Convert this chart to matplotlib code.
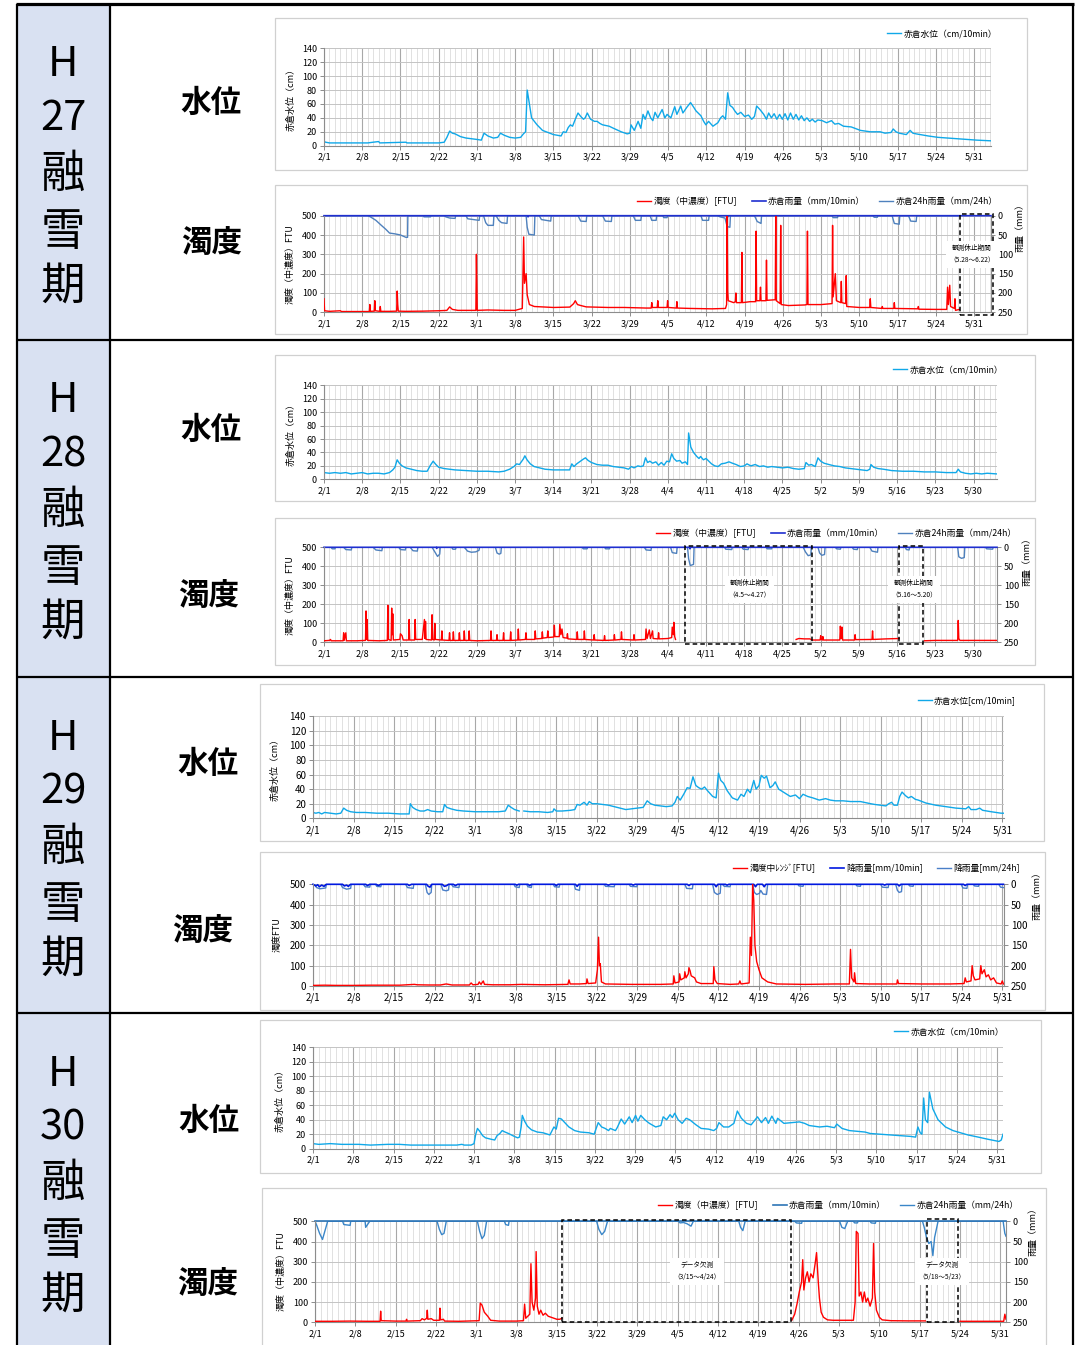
import numpy as np
import matplotlib
matplotlib.use("Agg")
import matplotlib.pyplot as plt
from matplotlib.patches import Rectangle

plt.rcParams["font.family"] = ["Noto Sans CJK JP", "DejaVu Sans"]

NAN = float("nan")

# ---------------- axis tick labels ----------------
TICKS_A = ["2/1", "2/8", "2/15", "2/22", "3/1", "3/8", "3/15", "3/22", "3/29", "4/5",
           "4/12", "4/19", "4/26", "5/3", "5/10", "5/17", "5/24", "5/31"]
TICKS_B = ["2/1", "2/8", "2/15", "2/22", "2/29", "3/7", "3/14", "3/21", "3/28", "4/4",
           "4/11", "4/18", "4/25", "5/2", "5/9", "5/16", "5/23", "5/30"]

YEARS = ["27", "28", "29", "30"]

# ---------------- H27 (days counted from 2/1) ----------------
WL27 = [(0, 6), (0.3, 5), (1, 4), (8, 4), (10, 6), (10.2, 4), (15, 5), (15.2, 4), (21, 4), (22, 5),
        (22.5, 12), (23, 21), (23.5, 18), (24, 17), (25, 13), (26, 11), (27, 10), (28, 9), (28.8, 8),
        (29.3, 18), (30, 14), (31, 11), (31.8, 12), (32.3, 18), (33, 15), (34, 12), (35, 11), (36, 12),
        (36.5, 17), (36.9, 20), (37.2, 80), (37.6, 60), (38, 40), (39, 30), (40, 22), (41, 19),
        (42, 16), (43.4, 14), (43.8, 20), (44.3, 19), (44.7, 26), (45.1, 30), (45.5, 28), (46, 38),
        (46.5, 47), (47, 42), (47.5, 38), (47.8, 40), (48.2, 47), (48.8, 38), (49.5, 35), (50, 35),
        (50.5, 32), (51, 30), (52.2, 28), (53, 25), (54.4, 20), (55.5, 17), (56, 18), (56.2, 30),
        (56.8, 22), (57.5, 35), (58, 25), (58.4, 45), (58.8, 38), (59.3, 50), (59.8, 40), (60.2, 36),
        (60.6, 48), (61.1, 40), (61.9, 52), (62.4, 40), (62.8, 45), (63.5, 40), (64.2, 56), (64.6, 45),
        (65.3, 57), (65.7, 47), (66.4, 55), (67.1, 62), (67.7, 55), (68.1, 50), (69, 43), (69.5, 35),
        (69.9, 30), (70.4, 35), (71.2, 28), (72.1, 33), (72.6, 40), (73, 43), (73.5, 38), (73.9, 76),
        (74.3, 58), (74.8, 55), (75.2, 50), (75.7, 45), (76.3, 48), (77, 42), (77.7, 44), (78.3, 38),
        (78.8, 42), (79.2, 57), (79.8, 52), (80.5, 45), (81, 38), (81.4, 47), (81.9, 40), (82.4, 46),
        (82.9, 38), (83.4, 45), (83.9, 38), (84.4, 46), (84.9, 37), (85.4, 47), (85.9, 38), (86.4, 45),
        (86.9, 37), (87.4, 43), (87.9, 36), (88.4, 40), (88.9, 35), (89.4, 38), (89.9, 34), (90.4, 37),
        (91.2, 36), (92, 33), (92.9, 36), (93.5, 31), (94.2, 32), (95.1, 28), (96.5, 27), (98.2, 22),
        (100, 20), (101.8, 20), (102.7, 18), (103.8, 19), (104.2, 24), (104.7, 20), (105.3, 18),
        (106.6, 16), (107.3, 22), (107.8, 18), (108.4, 17), (110.6, 14), (112.4, 12), (115.9, 10),
        (119.5, 8), (122.1, 7)]

TB27 = [(0, 70), (0.1, 8), (1, 5), (3, 8), (3.2, 4), (5, 4), (8.3, 4), (8.4, 40), (8.5, 5), (9.2, 6),
        (9.3, 60), (9.4, 8), (10.2, 5), (10.3, 30), (10.4, 5), (12, 5), (13.3, 6), (13.4, 110),
        (13.5, 40), (13.6, 6), (15, 5), (18, 6), (21, 8), (22.5, 10), (23, 28), (23.5, 15), (24.5, 10),
        (27.8, 10), (27.9, 300), (28.05, 10), (30, 12), (33, 10), (35, 10), (36.3, 20), (36.45, 230),
        (36.55, 390), (36.7, 150), (37.0, 200), (37.2, 90), (37.6, 40), (38.5, 30), (42, 25),
        (45, 27), (45.7, 45), (46, 60), (46.4, 40), (47, 35), (48, 28), (52, 25), (55, 25), (59, 22),
        (59.9, 22), (60, 50), (60.1, 25), (61, 25), (61.1, 60), (61.2, 25), (62.8, 25), (62.9, 60),
        (63, 25), (64.5, 22), (64.6, 55), (64.7, 22), (67, 20), (71, 18), (73.5, 20), (73.7, 40),
        (73.8, 500), (73.9, 110), (74.0, 60), (75, 50), (75.3, 55), (75.4, 100), (75.5, 50),
        (76.4, 50), (76.5, 310), (76.6, 50), (78, 55), (79, 55), (79.1, 420), (79.2, 60), (79.8, 60),
        (79.9, 130), (80, 60), (80.9, 60), (81, 270), (81.1, 62), (82.6, 65), (82.7, 500), (82.8, 60),
        (83.5, 45), (83.6, 450), (83.7, 40), (85, 35), (88, 38), (88.4, 40), (88.5, 420), (88.6, 40),
        (91, 40), (93, 45), (93.1, 450), (93.2, 80), (93.6, 200), (93.8, 60), (94.6, 50), (94.7, 160),
        (94.8, 50), (95.5, 45), (95.6, 190), (95.7, 30), (98, 25), (99.9, 25), (100, 70), (100.1, 25),
        (102.1, 20), (102.2, 30), (102.3, 20), (104.3, 20), (104.4, 50), (104.5, 20), (108.7, 18),
        (108.8, 30), (108.9, 16), (112, 15), (114, 15), (114.15, 130), (114.3, 40), (114.55, 140),
        (114.7, 30), (115.4, 20), (115.5, 70), (115.6, 10), (116.3, 15)]

R24_27 = [(0, 0), (8, 0), (8.5, 3), (9.5, 12), (10.5, 25), (11.3, 35), (12, 45), (13, 47), (14, 50),
          (15, 56), (15.3, 56), (15.35, 0), (18.2, 0), (18.3, 3), (19.5, 3), (19.6, 0), (22, 0),
          (22.3, 3), (23, 6), (24, 7), (24.1, 0), (26, 0), (26.3, 8), (28.4, 12), (28.5, 0), (29.2, 0),
          (29.6, 18), (30, 25), (31, 25), (31.1, 0), (31.5, 0), (32, 12), (32.5, 18), (33.5, 20),
          (33.6, 0), (37, 0), (37.2, 30), (37.5, 48), (38.5, 50), (38.6, 0), (39.4, 0), (39.8, 10),
          (41.5, 14), (41.6, 0), (46.5, 0), (47, 14), (48, 15), (48.1, 0), (51, 0), (51.5, 14),
          (52.6, 15), (52.7, 0), (56.6, 0), (57, 12), (58, 12), (58.1, 0), (59.7, 0), (60, 12),
          (60.8, 12), (60.9, 0), (62, 0), (62.2, 5), (62.8, 5), (62.9, 0), (69, 0), (69.3, 12),
          (70.4, 12), (70.5, 0), (72, 0), (72.5, 3), (73.4, 6), (73.8, 28), (74.3, 30), (74.4, 0),
          (78.8, 0), (79.3, 15), (80, 20), (80.1, 0), (93, 0), (93.2, 5), (94, 5), (94.1, 0),
          (100.5, 0), (100.7, 4), (101.3, 4), (101.4, 0), (104, 0), (104.4, 20), (105.3, 22),
          (105.4, 0), (107, 0), (107.4, 14), (108.4, 15), (108.5, 0), (116.3, 0)]

R10_27 = [(0, 0), (37.3, 0), (37.35, 3), (37.4, 0), (73.8, 0), (73.85, 4), (73.9, 0), (122.1, 0)]

# ---------------- H28 ----------------
WL28 = [(0, 10), (1, 9), (2, 10), (3, 9), (4, 10), (5, 8), (6, 9), (7, 10), (8, 8), (9, 9), (10, 9),
        (11, 8), (12, 10), (12.6, 14), (13, 18), (13.4, 29), (13.8, 24), (14.3, 20), (15, 17),
        (16, 15), (17, 13), (18, 12), (18.9, 12), (19.5, 21), (20, 27), (20.5, 22), (21, 18),
        (22, 16), (23, 15), (24, 14), (26, 13), (28, 12), (30, 12), (32, 11), (33, 12), (34, 15),
        (34.8, 19), (35.3, 23), (35.8, 22), (36.5, 30), (36.8, 35), (37.2, 29), (37.8, 23),
        (38.5, 19), (39.5, 17), (40.5, 15), (42, 14), (44, 14), (45, 14), (45.4, 23), (45.8, 19),
        (46.3, 23), (46.8, 26), (47.5, 30), (47.9, 32), (48.4, 28), (49, 25), (50, 22), (51, 21),
        (52, 21), (53, 19), (54, 18), (55, 17), (55.8, 15), (56.3, 19), (56.8, 17), (57.5, 20),
        (58, 19), (58.5, 20), (58.9, 32), (59.3, 25), (59.7, 27), (60.2, 24), (60.8, 26), (61.3, 21),
        (61.8, 25), (62.3, 21), (62.8, 27), (63.3, 26), (63.7, 38), (64.1, 31), (64.6, 27),
        (65.2, 28), (65.6, 24), (66.2, 26), (66.6, 22), (66.8, 69), (67.2, 48), (67.7, 40),
        (68.3, 34), (68.7, 31), (69, 34), (69.5, 29), (70, 31), (70.5, 27), (71, 23), (71.6, 20),
        (72.2, 19), (72.8, 23), (73.5, 24), (74.2, 26), (74.8, 24), (75.5, 22), (76.3, 19), (77, 20),
        (77.5, 23), (78.2, 20), (79, 22), (79.8, 19), (80.5, 20), (81.3, 18), (82, 19), (83, 18),
        (84, 17), (85, 18), (86, 16), (87, 15), (88, 16), (88.3, 25), (88.8, 21), (89.3, 22),
        (90, 19), (90.5, 32), (91, 27), (91.6, 24), (92.5, 22), (93.5, 20), (94.5, 19), (95.5, 17),
        (96.5, 16), (97.5, 15), (98.5, 14), (99.5, 13), (100, 15), (100.2, 22), (100.7, 18),
        (101.5, 16), (102.5, 15), (104, 13), (106, 12), (108, 12), (110, 11), (112, 11), (114, 10),
        (115.8, 10), (116.2, 15), (116.6, 11), (117.5, 9), (118.5, 8), (119.5, 9), (120.5, 8),
        (121.5, 9), (123.3, 8)]

TB28 = [(0, 8), (1, 10), (1.2, 15), (1.3, 8), (3.5, 8), (3.6, 50), (3.7, 10), (4, 50), (4.1, 8),
        (6, 8), (7.6, 10), (7.7, 165), (7.8, 15), (7.9, 120), (8, 10), (10, 8), (11.6, 10),
        (11.7, 195), (11.8, 15), (12.3, 10), (12.4, 180), (12.5, 40), (12.6, 150), (12.7, 12),
        (13.9, 15), (14, 45), (14.3, 35), (14.5, 12), (15.5, 12), (15.6, 120), (15.7, 12), (16.6, 12),
        (16.7, 120), (16.8, 15), (18, 15), (18.4, 120), (18.5, 20), (18.6, 110), (18.7, 15),
        (19.7, 12), (19.8, 145), (19.9, 15), (20.2, 12), (20.3, 100), (20.4, 15), (21.5, 12),
        (21.6, 60), (21.7, 12), (22.9, 10), (23, 50), (23.1, 10), (23.6, 10), (23.7, 55), (23.8, 10),
        (24.7, 10), (24.8, 50), (24.9, 10), (25.6, 10), (25.7, 60), (25.8, 10), (26.5, 10),
        (26.6, 60), (26.7, 10), (28, 8), (30.5, 10), (30.6, 60), (30.7, 10), (31.6, 10), (31.7, 40),
        (31.8, 10), (32.8, 10), (32.9, 50), (33, 10), (34.1, 10), (34.2, 55), (34.3, 10), (35.5, 12),
        (35.6, 70), (35.7, 12), (36.9, 15), (37, 50), (37.1, 15), (38.6, 15), (38.7, 60), (38.8, 18),
        (39.9, 20), (40, 55), (40.1, 22), (40.9, 25), (41, 60), (41.1, 25), (42.1, 28), (42.2, 90),
        (42.3, 30), (43.1, 30), (43.2, 95), (43.4, 40), (43.6, 70), (43.8, 25), (44.5, 22),
        (44.6, 45), (44.7, 18), (46.3, 15), (46.4, 55), (46.5, 15), (47.6, 15), (47.7, 60),
        (47.8, 15), (49.4, 12), (49.5, 40), (49.6, 12), (51.3, 10), (51.4, 35), (51.5, 10),
        (53.1, 12), (53.2, 40), (53.3, 12), (54.4, 15), (54.5, 55), (54.6, 15), (56.7, 12),
        (56.8, 40), (56.9, 12), (58.9, 15), (59, 70), (59.2, 20), (59.6, 65), (59.8, 20), (60.2, 60),
        (60.3, 20), (61.2, 18), (61.3, 50), (61.4, 18), (63, 20), (63.7, 25), (63.8, 80), (64, 40),
        (64.1, 105), (64.25, 30), (64.4, 15), (64.5, NAN), (86.5, 15), (87, 20), (88, 18), (89, 18),
        (89.5, 12), (90.9, 12), (91, 35), (91.1, 15), (91.3, 12), (91.4, 30), (91.5, 12), (94.5, 12),
        (94.6, 85), (94.75, 20), (94.9, 80), (95, 12), (97.2, 12), (97.3, 40), (97.4, 14),
        (100.4, 15), (100.5, 60), (100.6, 15), (103, 18), (105.4, 20), (105.5, NAN), (110, 8),
        (112, 10), (116.1, 10), (116.2, 115), (116.3, 20), (116.5, 10), (118, 10), (123.3, 10)]

R24_28 = [(0, 0), (1.3, 0), (1.5, 4), (2, 4), (2.1, 0), (3.6, 0), (4, 6), (5, 7), (5.1, 0), (9, 0),
          (9.5, 7), (10.6, 9), (10.7, 0), (13.7, 0), (14, 6), (14.9, 7), (15, 0), (15.8, 0), (16.3, 9),
          (17.1, 10), (17.2, 0), (19.8, 0), (20.3, 12), (20.8, 24), (21.2, 18), (21.3, 0), (23.4, 0),
          (23.6, 5), (24.1, 5), (24.2, 0), (25.7, 0), (26.3, 10), (27, 13), (27.8, 12), (28.4, 8),
          (28.5, 0), (31.4, 0), (31.7, 15), (32.1, 18), (32.4, 16), (32.5, 0), (47.3, 0), (47.5, 4),
          (48.2, 4), (48.3, 0), (51.4, 0), (51.6, 4), (52.3, 4), (52.4, 0), (58.7, 0), (59, 7),
          (59.9, 8), (60, 0), (63.5, 0), (63.8, 14), (64.6, 16), (64.7, 0), (66.6, 0), (66.8, 30),
          (67.1, 48), (67.7, 45), (67.8, 0), (73.4, 0), (73.6, 5), (74.7, 6), (74.8, 0), (76.6, 0),
          (76.8, 5), (77.7, 6), (77.8, 0), (81, 0), (81.2, 4), (82, 4), (82.1, 0), (87.8, 0),
          (88.2, 12), (88.7, 22), (89.2, 20), (89.3, 0), (90.5, 0), (90.8, 15), (91.2, 21), (91.7, 19),
          (91.8, 0), (93.7, 0), (93.9, 4), (94.6, 5), (94.7, 0), (96.8, 0), (97, 5), (97.7, 6),
          (97.8, 0), (100, 0), (100.4, 10), (101.4, 13), (101.5, 0), (106.5, 0), (106.7, 6),
          (107.2, 7), (107.3, 0), (116.1, 0), (116.3, 25), (116.8, 29), (117.3, 27), (117.4, 0),
          (121.2, 0), (121.4, 4), (122.5, 5), (122.6, 0), (123.3, 0)]

R10_28 = [(0, 0), (20.6, 0), (20.65, 3), (20.7, 0), (67, 0), (67.05, 4), (67.1, 0), (123.3, 0)]

# ---------------- H29 ----------------
WL29 = [(0, 8), (0.5, 7), (1, 8), (1.5, 6), (2, 8), (3, 7), (4, 6), (4.8, 7), (5.3, 14), (5.8, 11),
        (6.5, 9), (7.5, 8), (9, 8), (11, 7), (13, 7), (15, 6), (16.6, 6), (16.8, 20), (17.2, 15),
        (17.8, 12), (18.5, 10), (19.2, 10), (19.8, 12), (20.4, 10), (21.5, 9), (22.4, 9), (22.7, 19),
        (23.1, 15), (23.8, 13), (24.8, 11), (26, 10), (28, 9), (30, 9), (32, 9), (33.2, 10),
        (33.7, 18), (34.2, 15), (34.8, 12), (35.6, 10), (35.7, NAN), (36.4, 10), (37.5, 9), (39, 9),
        (40.5, 8), (41.4, 9), (41.6, 13), (42, 10), (43, 10), (44.5, 11), (45.2, 12), (45.6, 19),
        (46.1, 18), (46.8, 22), (47.3, 18), (47.7, 23), (48.2, 20), (49, 20), (50, 19), (51, 18),
        (52, 16), (53, 14), (54, 12), (55, 13), (56, 14), (57, 15), (57.7, 24), (58.3, 20), (59, 18),
        (60, 17), (61, 16), (62, 17), (62.5, 22), (62.9, 30), (63.4, 25), (64, 33), (64.6, 42),
        (65.1, 41), (65.6, 57), (66.1, 45), (66.6, 42), (67.1, 40), (67.6, 43), (68.1, 38), (69, 30),
        (69.6, 28), (70, 62), (70.4, 52), (70.9, 48), (71.5, 38), (72.4, 28), (73.3, 25), (73.9, 33),
        (74.4, 30), (75, 40), (75.5, 35), (76.1, 52), (76.5, 40), (77, 45), (77.4, 59), (77.9, 55),
        (78.3, 58), (78.9, 42), (79.4, 45), (79.8, 50), (80.4, 40), (81.4, 35), (82.4, 30),
        (83.3, 32), (84, 27), (84.6, 33), (85.4, 30), (86.3, 28), (87.4, 25), (88.5, 27), (89.3, 25),
        (90.2, 24), (91.5, 24), (92.8, 23), (94.5, 23), (96.3, 20), (97, 19), (98, 18), (98.9, 17),
        (99.4, 20), (99.9, 22), (100.3, 18), (100.9, 18), (101.3, 30), (101.7, 36), (102.3, 31),
        (102.8, 28), (103.3, 30), (104, 26), (104.5, 25), (105.8, 21), (107.5, 18), (109.3, 16),
        (111, 14), (112.7, 13), (113.2, 16), (113.6, 12), (114.5, 12), (115.1, 14), (115.6, 11),
        (117.1, 9), (118.8, 7), (119.2, 7)]

TB29 = [(0, 3), (2, 4), (4, 3), (7, 3), (10, 4), (15, 4), (17.5, 8), (18, 6), (20, 5), (22, 5),
        (23, 10), (24, 5), (27, 5), (27.3, 15), (27.6, 6), (28.5, 8), (28.7, 20), (29, 8), (29.4, 25),
        (29.6, 8), (31, 6), (34, 6), (36, 8), (40, 6), (42, 7), (44, 8), (44.2, 30), (44.4, 10),
        (46, 10), (47.2, 12), (47.3, 35), (47.5, 12), (48.8, 15), (49.1, 80), (49.3, 240),
        (49.45, 100), (49.6, 110), (49.8, 20), (50.5, 10), (55, 8), (60, 8), (62.2, 10), (62.3, 50),
        (62.5, 15), (63.2, 20), (63.3, 60), (63.5, 30), (64.1, 40), (64.2, 70), (64.4, 40),
        (64.8, 60), (64.9, 90), (65.1, 75), (65.3, 50), (65.9, 40), (66.2, 20), (67, 12), (69.1, 12),
        (69.2, 95), (69.4, 30), (69.8, 12), (72, 8), (73.5, 10), (73.7, 25), (73.9, 10), (75.3, 15),
        (75.5, 240), (75.7, 150), (75.9, 500), (76.1, 420), (76.3, 200), (76.6, 120), (77, 80),
        (77.5, 40), (78.5, 20), (80, 10), (85, 8), (90, 10), (92.6, 10), (92.8, 180), (93, 40),
        (93.4, 20), (93.5, 65), (93.7, 12), (96, 10), (100, 10), (100.8, 10), (100.9, 30),
        (101.1, 12), (105, 10), (110, 10), (112.4, 12), (112.6, 40), (112.8, 20), (113.6, 25),
        (113.8, 100), (114, 50), (114.3, 30), (115.1, 35), (115.3, 100), (115.5, 60), (115.9, 80),
        (116.2, 45), (116.6, 55), (117, 30), (117.5, 40), (118, 15), (118.8, 10), (119, 25),
        (119.2, 10)]

R24_29 = [(0, 0), (0.3, 0), (0.6, 8), (1.2, 11), (2.2, 9), (2.3, 0), (4.8, 0), (5.1, 8), (5.8, 12),
          (6.5, 10), (6.6, 0), (8.7, 0), (9, 6), (9.8, 7), (9.9, 0), (10.8, 0), (11, 5), (11.7, 6),
          (11.8, 0), (16, 0), (16.3, 8), (17.3, 10), (17.4, 0), (19.4, 0), (19.7, 20), (20, 25),
          (20.4, 20), (20.5, 0), (22.1, 0), (22.4, 14), (23, 16), (23.4, 14), (23.5, 0), (23.9, 0),
          (24.2, 6), (25.2, 8), (25.3, 0), (34.7, 0), (34.9, 6), (35.6, 8), (35.7, 0), (36.9, 0),
          (37.1, 6), (37.7, 8), (37.8, 0), (41.5, 0), (41.7, 6), (42.5, 7), (42.6, 0), (45.1, 0),
          (45.3, 12), (46, 15), (46.1, 0), (50.3, 0), (50.5, 5), (52, 6), (52.1, 0), (54.6, 0),
          (54.8, 5), (55.9, 6), (56, 0), (64.2, 0), (64.5, 10), (65.5, 11), (65.6, 0), (69, 0),
          (69.3, 20), (69.8, 25), (70.3, 22), (70.4, 0), (70.7, 0), (71, 5), (72, 6), (72.1, 0),
          (75.9, 0), (76.2, 20), (76.6, 25), (77.1, 22), (77.3, 15), (77.7, 24), (78.3, 25), (78.5, 0),
          (83.7, 0), (83.9, 4), (84.6, 5), (84.7, 0), (93.7, 0), (93.9, 4), (94.5, 5), (94.6, 0),
          (98, 0), (98.3, 7), (99.3, 8), (99.4, 0), (100.6, 0), (100.9, 15), (101.2, 20), (101.6, 18),
          (101.7, 0), (102.8, 0), (103, 4), (103.6, 5), (103.7, 0), (111.9, 0), (112.2, 9), (112.9, 10),
          (113, 0), (114, 0), (114.2, 4), (114.9, 5), (115, 0), (118.4, 0), (118.7, 7), (119.2, 8)]

R10_29 = [(0, 0), (0.5, 4), (0.8, 1), (1.1, 6), (1.5, 2), (1.9, 5), (2.3, 0), (5.1, 0), (5.4, 4),
          (5.8, 2), (6.1, 5), (6.5, 0), (9.1, 0), (9.4, 3), (9.8, 0), (10.9, 0), (11.3, 3), (11.7, 0),
          (16.3, 0), (16.6, 3), (17, 0), (19.6, 0), (19.9, 5), (20.2, 7), (20.5, 0), (22.3, 0),
          (22.7, 5), (23.1, 3), (23.4, 0), (24.2, 0), (24.6, 3), (25, 0), (34.9, 0), (35.2, 2),
          (35.5, 0), (37.1, 0), (37.4, 3), (37.7, 0), (41.7, 0), (42, 3), (42.3, 0), (45.3, 0),
          (45.6, 5), (45.9, 0), (50.6, 0), (51, 2), (51.4, 0), (55, 0), (55.3, 2), (55.6, 0),
          (64.6, 0), (64.9, 3), (65.2, 0), (69.3, 0), (69.6, 6), (69.9, 0), (71.2, 0), (71.5, 2),
          (71.8, 0), (76.1, 0), (76.4, 6), (76.7, 0), (77.6, 0), (77.9, 6), (78.2, 0), (98.4, 0),
          (98.7, 2), (99, 0), (100.9, 0), (101.2, 4), (101.5, 0), (112.3, 0), (112.6, 3), (112.9, 0),
          (119.2, 0)]

# ---------------- H30 ----------------
WL30 = [(0, 7), (1, 6), (3, 7), (5, 6), (8, 6), (10, 5), (13, 6), (15, 6), (17, 5), (20, 5), (23, 5),
        (25, 5), (25.9, 6), (26.3, 5), (27.5, 5), (28, 7), (28.3, 20), (28.6, 28), (29, 24),
        (29.5, 18), (30, 15), (31, 13), (31.6, 12), (32, 18), (32.5, 21), (32.9, 25), (33.4, 23),
        (34, 21), (35, 17), (35.6, 15), (35.9, 16), (36.2, 30), (36.4, 46), (36.8, 38), (37.3, 31),
        (38, 26), (39, 23), (40, 22), (41.2, 19), (41.9, 30), (42.3, 27), (42.7, 42), (43.2, 41),
        (43.8, 36), (44.5, 30), (45.5, 25), (46.5, 23), (48, 22), (48.9, 20), (49.6, 36), (50.2, 30),
        (50.8, 28), (51.4, 25), (51.7, 28), (52.6, 25), (52.9, 29), (53.6, 41), (54.2, 34), (55, 44),
        (55.5, 36), (56.1, 46), (56.5, 38), (57, 46), (57.7, 40), (58.5, 35), (59.6, 30), (60.5, 32),
        (60.9, 44), (61.5, 40), (62.1, 47), (62.5, 43), (62.9, 49), (63.5, 40), (64.2, 35),
        (64.9, 42), (65.5, 40), (66.6, 33), (67.5, 28), (68.8, 27), (69.7, 25), (70.2, 28),
        (70.6, 36), (71.4, 30), (72.3, 30), (73.2, 35), (73.8, 52), (74.5, 42), (75.4, 35),
        (76.2, 33), (77.3, 44), (78, 36), (78.7, 43), (79.2, 35), (79.8, 45), (80.5, 35), (80.8, 42),
        (81.9, 35), (83.3, 36), (84.6, 37), (85.5, 35), (86.3, 32), (87.2, 31), (88.1, 30),
        (89.4, 31), (90.7, 29), (91.1, 34), (92, 28), (93.3, 25), (94.7, 24), (96, 23), (96.9, 21),
        (98.6, 20), (100.4, 19), (102.1, 18), (103.9, 17), (104.8, 16), (105.2, 30), (105.6, 22),
        (105.9, 20), (106.2, 70), (106.5, 40), (106.9, 36), (107.2, 78), (107.8, 55), (108.7, 40),
        (110, 30), (111.3, 25), (112.6, 22), (113.9, 19), (115.7, 16), (117.4, 13), (118.7, 11),
        (119.3, 10), (119.7, 12), (120, 20)]

TB30 = [(0, 5), (3, 5), (6, 6), (9, 5), (11.3, 5), (11.4, 55), (11.5, 8), (14, 6), (15.8, 6),
        (15.9, 15), (16, 6), (18.3, 8), (18.6, 18), (19, 12), (19.4, 20), (19.5, 60), (19.6, 15),
        (20.2, 18), (20.6, 10), (21.6, 10), (21.7, 70), (21.8, 12), (22.3, 15), (22.5, 6), (25, 5),
        (28.5, 8), (28.7, 95), (29, 85), (29.4, 50), (30, 30), (30.5, 10), (32, 6), (35, 6),
        (36.2, 8), (36.4, 90), (36.6, 20), (37.3, 40), (37.5, 290), (37.7, 100), (38, 60), (38.1, 80),
        (38.3, 120), (38.4, 350), (38.6, 80), (38.9, 40), (39.2, 60), (39.6, 35), (40, 45), (40.5, 30),
        (41, 25), (41.5, 20), (42, 15), (42.5, 15), (42.9, 20), (43, NAN), (82.8, 10), (83.3, 40),
        (83.7, 90), (84.1, 150), (84.5, 200), (84.7, 310), (84.9, 160), (85.2, 220), (85.5, 250),
        (85.8, 200), (86.1, 240), (86.5, 220), (86.9, 300), (87.1, 345), (87.4, 200), (87.6, 120),
        (87.9, 50), (88.3, 25), (89, 12), (90, 10), (92, 10), (93.5, 10), (93.8, 100), (94, 450),
        (94.3, 440), (94.5, 130), (94.8, 150), (95.1, 100), (95.4, 150), (95.7, 100), (96, 120),
        (96.4, 80), (96.8, 120), (97, 390), (97.2, 150), (97.5, 60), (98, 25), (98.5, 12), (100, 8),
        (103, 7), (106, 7), (106.1, NAN), (112, 5), (115, 5), (118, 5), (119.6, 5), (119.8, 40),
        (120, 15)]

R24_30 = [(0, 0), (0.3, 10), (0.8, 30), (1.3, 45), (1.8, 20), (2.2, 0), (4.8, 0), (5, 8), (6.1, 10),
          (6.2, 0), (8.7, 0), (8.8, 15), (9.5, 0), (21.2, 0), (21.6, 20), (22, 33), (22.4, 30),
          (22.8, 0), (28.2, 0), (28.6, 25), (29, 43), (29.4, 35), (29.8, 0), (32.9, 0), (33.1, 8),
          (33.6, 10), (33.7, 0), (48.9, 0), (49.3, 20), (49.8, 33), (50.3, 25), (50.8, 0), (63.1, 0),
          (63.4, 4), (64, 3), (64.6, 6), (65.3, 12), (65.7, 0), (73.6, 0), (73.9, 15), (74.3, 23),
          (74.7, 0), (83.3, 0), (83.6, 4), (84.5, 5), (84.6, 0), (91.1, 0), (91.5, 15), (92, 18),
          (92.5, 0), (93.5, 0), (93.7, 4), (94.2, 4), (94.3, 0), (96.4, 0), (96.6, 4), (97.3, 5),
          (97.4, 0), (105.5, 0), (105.8, 15), (106.2, 40), (106.6, 55), (107, 50), (107.3, 85),
          (107.6, 40), (108.2, 0), (119.5, 0), (119.8, 30), (120, 37)]

R10_30 = [(0, 0), (120, 0)]

# ---------------- figure ----------------
W, H = 1080, 1345
fig = plt.figure(figsize=(W / 100, H / 100), dpi=100)
fig.patch.set_facecolor("white")

bg = fig.add_axes([0, 0, 1, 1], zorder=-10)
bg.set_xlim(0, W)
bg.set_ylim(H, 0)
bg.axis("off")

ROW_TOPS = [4, 340, 677, 1013]

# left column fill and table rules
bg.add_patch(Rectangle((17, 4), 93, H, fc="#D9E1F2", ec="none"))
for yy in ROW_TOPS[1:]:
    bg.plot([17, 1073], [yy, yy], color="black", lw=1.6, solid_capstyle="butt")
bg.plot([16, 1074], [4, 4], color="black", lw=2.3, solid_capstyle="butt")
for xx in [17, 110, 1073]:
    bg.plot([xx, xx], [4, H], color="black", lw=1.6, solid_capstyle="butt")

# chart frames
FRAMES = [(275, 18, 1027, 170), (275, 185, 1027, 334), (275, 355, 1035, 501), (275, 518, 1035, 665),
          (260, 684, 1044, 841), (260, 852, 1045, 1010), (260, 1020, 1041, 1173), (262, 1188, 1046, 1350)]
for x0, y0, x1, y1 in FRAMES:
    bg.add_patch(Rectangle((x0, y0), x1 - x0, y1 - y0, fc="white", ec="#D0D0D0", lw=0.9))

# big row labels
OFFS = [61, 115, 170, 228, 282]
SUB_Y = [(103, 244), (430, 597), (764, 932), (1121, 1285)]
SUB_X = [(211, 212), (211, 209), (208, 203), (209, 208)]
for i, top in enumerate(ROW_TOPS):
    for j, (txt, off) in enumerate(zip(["H", YEARS[i], "融", "雪", "期"], OFFS)):
        bg.text(63, top + off, txt, ha="center", va="center", fontsize=30 if j < 2 else 32, color="black")
    bg.text(SUB_X[i][0], SUB_Y[i][0], "水位", ha="center", va="center", fontsize=22, fontweight="bold")
    bg.text(SUB_X[i][1], SUB_Y[i][1], "濁度", ha="center", va="center", fontsize=22, fontweight="bold")


def px_axes(x0, y0, x1, y1):
    return fig.add_axes([x0 / W, 1 - y1 / H, (x1 - x0) / W, (y1 - y0) / H])


def split(pairs):
    return [p[0] for p in pairs], [p[1] for p in pairs]


def style_axes(ax, xmax, ticks, ymax, ystep, fs):
    ax.set_xlim(0, xmax)
    ax.set_ylim(0, ymax)
    ax.set_xticks(np.arange(0, 7 * len(ticks), 7))
    ax.set_xticklabels(ticks)
    ax.set_xticks(np.arange(0, xmax + 0.01, 1), minor=True)
    ax.set_yticks(np.arange(0, ymax + 1, ystep))
    ax.grid(which="minor", axis="x", color="#DCDCDC", lw=0.6)
    ax.grid(which="major", axis="x", color="#A8A8A8", lw=0.8)
    ax.grid(which="major", axis="y", color="#C4C4C4", lw=0.7)
    ax.set_axisbelow(True)
    for s in ["top", "right"]:
        ax.spines[s].set_visible(False)
    for s in ["left", "bottom"]:
        ax.spines[s].set_color("#8C8C8C")
        ax.spines[s].set_linewidth(0.8)
    ax.tick_params(which="major", length=3, width=0.7, color="#8C8C8C", labelsize=fs, pad=2)
    ax.tick_params(which="minor", length=0)


def fig_text(x, y, s, **kw):
    fig.text(x / W, 1 - y / H, s, **kw)


def water_panel(box, data, xmax, ticks, label, leg_xy, ylab_xy, fs=6.5):
    ax = px_axes(*box)
    style_axes(ax, xmax, ticks, 140, 20, fs)
    d, v = split(data)
    ln, = ax.plot(d, v, color="#10A8E8", lw=1.0)
    ax.legend([ln], [label], loc="center right", bbox_to_anchor=(leg_xy[0] / W, 1 - leg_xy[1] / H),
              bbox_transform=fig.transFigure, frameon=False, fontsize=6.3, handlelength=1.6,
              handletextpad=0.3, borderpad=0, borderaxespad=0)
    fig_text(ylab_xy[0], ylab_xy[1], "赤倉水位（cm）", rotation=90, ha="center", va="center", fontsize=6.5)
    return ax


def turb_panel(box, tb, r24, r10, xmax, ticks, labels, rain_colors, leg_xy, ylab, ylab_xy, rlab_xy,
               boxes, notes, fs=6.5):
    ax = px_axes(*box)
    ax2 = ax.twinx()
    style_axes(ax, xmax, ticks, 500, 100, fs)
    ax2.set_ylim(250, 0)
    ax2.set_xlim(0, xmax)
    ax2.set_yticks(np.arange(0, 251, 50))
    ax2.tick_params(length=3, width=0.7, color="#8C8C8C", labelsize=fs, pad=2)
    for s in ["top", "left", "bottom"]:
        ax2.spines[s].set_visible(False)
    ax2.spines["right"].set_color("#8C8C8C")
    ax2.spines["right"].set_linewidth(0.8)
    ax.set_zorder(ax2.get_zorder() + 1)
    ax.patch.set_visible(False)

    # rainfall is plotted against the inverted right-hand scale
    d24, v24 = split(r24)
    l24, = ax.plot(d24, v24, color=rain_colors[1], lw=1.0, transform=ax2.transData, zorder=2)
    d10, v10 = split(r10)
    l10, = ax.plot(d10, v10, color=rain_colors[0], lw=1.2, transform=ax2.transData, zorder=2.2,
                   clip_on=False)
    dt, vt = split(tb)
    lt, = ax.plot(dt, vt, color="#FF0000", lw=1.0, zorder=3)

    ax.legend([lt, l10, l24], labels, loc="center right", ncol=3,
              bbox_to_anchor=(leg_xy[0] / W, 1 - leg_xy[1] / H), bbox_transform=fig.transFigure,
              frameon=False, fontsize=6.3, handlelength=1.6, handletextpad=0.3, columnspacing=1.6,
              borderpad=0, borderaxespad=0)
    fig_text(ylab_xy[0], ylab_xy[1], ylab, rotation=90, ha="center", va="center", fontsize=6.5)
    fig_text(rlab_xy[0], rlab_xy[1], "雨量（mm）", rotation=90, ha="center", va="center", fontsize=6.5)

    for x0, x1, y0, y1 in boxes:
        ax.add_patch(Rectangle((x0, y0), x1 - x0, y1 - y0, fill=False, ec="black", lw=1.1,
                               ls=(0, (3, 2)), clip_on=False, zorder=6))
    for x, y, s in notes:
        ax.text(x, y, s, ha="center", va="center", fontsize=4.8, linespacing=1.7, zorder=7,
                bbox=dict(fc="white", ec="none", pad=2.5))
    return ax


LAB_STD = ["濁度（中濃度）[FTU]", "赤倉雨量（mm/10min）", "赤倉24h雨量（mm/24h）"]

# H27
water_panel((324, 48.3, 991, 145.7), WL27, 122.1, TICKS_A, "赤倉水位（cm/10min）", (997, 34), (291, 97))
turb_panel((324, 215.7, 991, 312.3), TB27, R24_27, R10_27, 122.1, TICKS_A, LAB_STD,
           ("#1F2FD0", "#4F81BD"), (998, 201), "濁度（中濃度）FTU", (290, 264), (1020, 226),
           [(116.4, 122.4, -15, 510)],
           [(118.6, 300, "観測休止期間\n（5.28～6.22）")])

# H28
water_panel((324, 385.3, 997, 479.3), WL28, 123.3, TICKS_B, "赤倉水位（cm/10min）", (1003, 370), (291, 432))
turb_panel((324, 547.3, 997, 642.3), TB28, R24_28, R10_28, 123.3, TICKS_B, LAB_STD,
           ("#1F2FD0", "#4F81BD"), (1017, 533), "濁度（中濃度）FTU", (290, 595), (1027, 560),
           [(66.2, 89.4, -8, 509), (105.4, 109.7, -8, 509)],
           [(77.9, 280, "観測休止期間\n（4.5～4.27）"), (108.1, 280, "観測休止期間\n（5.16～5.20）")])

# H29
water_panel((313, 716.3, 1004, 818.3), WL29, 119.3, TICKS_A, "赤倉水位[cm/10min]", (1016, 701), (275, 767), fs=7)
turb_panel((313, 884.3, 1004, 986), TB29, R24_29, R10_29, 119.3, TICKS_A,
           ["濁度中ﾚﾝｼﾞ[FTU]", "降雨量[mm/10min]", "降雨量[mm/24h]"],
           ("#0018E0", "#4A7FC8"), (1020, 868), "濁度FTU", (277, 935), (1037, 893),
           [], [], fs=7)

# H30
water_panel((313, 1047.3, 1003, 1148.7), WL30, 120, TICKS_A, "赤倉水位（cm/10min）", (1004, 1032), (280, 1098))
turb_panel((315, 1221.3, 1006, 1322.3), TB30, R24_30, R10_30, 120, TICKS_A, LAB_STD,
           ("#2E75B6", "#3A86C8"), (1019, 1205), "濁度（中濃度）FTU", (281, 1271), (1033, 1230),
           [(42.9, 82.6, 0, 505), (106.2, 111.7, 0, 511)],
           [(66.4, 252, "データ欠測\n（3/15～4/24）"), (108.9, 252, "データ欠測\n（5/18～5/23）")])

fig.savefig("out.png", dpi=100, facecolor="white")
